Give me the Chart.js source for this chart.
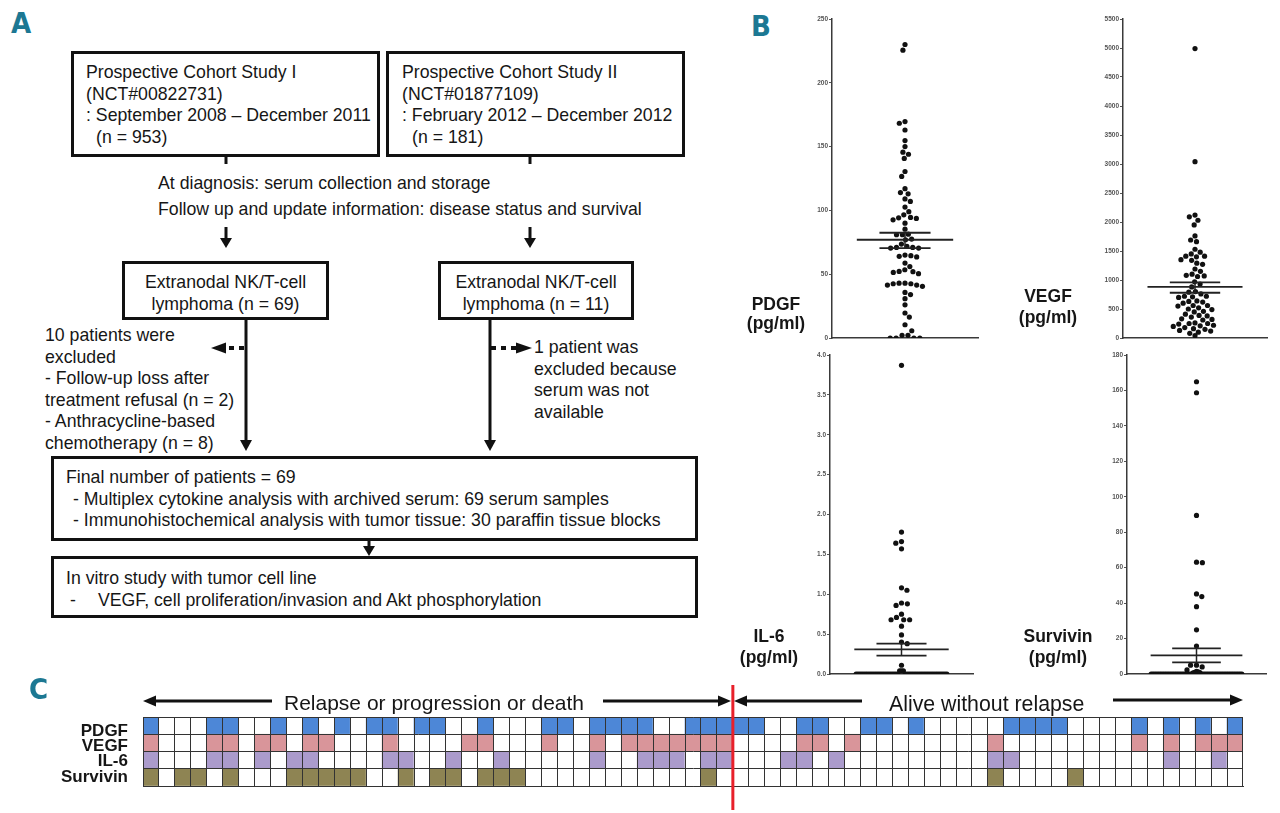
<!DOCTYPE html>
<html>
<head>
<meta charset="utf-8">
<script src="https://cdn.jsdelivr.net/npm/chart.js@4.4.1/dist/chart.umd.min.js"></script>
<style>
  body { margin: 0; background: #fff; }
  #page { position: relative; width: 1280px; height: 813px; overflow: hidden; font-family: "Liberation Sans", Arial, sans-serif; color: #161616; }
  .box { position: absolute; box-sizing: border-box; border: 3px solid #111; font-size: 17.7px; line-height: 21.5px; white-space: nowrap; }
  .txt { position: absolute; font-size: 17.7px; line-height: 21.5px; white-space: nowrap; }
  .panel { position: absolute; font-family: "Liberation Sans Narrow", "DejaVu Sans Condensed", sans-serif; font-weight: bold; color: #1c7893; font-size: 29px; line-height: 29px; }
  .ylab { position: absolute; font-weight: bold; font-size: 17.5px; text-align: center; width: 100px; white-space: nowrap; }
  .rowlab { position: absolute; font-weight: bold; font-size: 17px; line-height: 16px; text-align: right; width: 110px; left: 18px; }
  canvas { position: absolute; }
  svg { position: absolute; left: 0; top: 0; }
</style>
</head>
<body>
<div id="page">
  <canvas id="heat" width="1280" height="133" style="left:0;top:680px"></canvas>
  <canvas id="c0" width="182" height="332" style="left:800px;top:12px"></canvas>
  <canvas id="c1" width="180" height="332" style="left:1091px;top:12px"></canvas>
  <canvas id="c2" width="179" height="332" style="left:798px;top:348px"></canvas>
  <canvas id="c3" width="175" height="332" style="left:1095px;top:348px"></canvas>

  <div class="panel" style="left:11px;top:9px">A</div>
  <div class="panel" style="left:751px;top:12px">B</div>
  <div class="panel" style="left:29px;top:675px">C</div>

  <!-- flowchart -->
  <div class="box" style="left:71px;top:51px;width:309px;height:106px;padding:8px 0 0 12px">
    Prospective Cohort Study I<br>(NCT#00822731)<br>: September 2008 &ndash; December 2011<br><span style="padding-left:10px">(n = 953)</span>
  </div>
  <div class="box" style="left:386px;top:51px;width:299px;height:106px;padding:8px 0 0 13px">
    Prospective Cohort Study II<br>(NCT#01877109)<br>: February 2012 &ndash; December 2012<br><span style="padding-left:10px">(n = 181)</span>
  </div>
  <div class="txt" style="left:158px;top:173px">At diagnosis: serum collection and storage</div>
  <div class="txt" style="left:158px;top:199px">Follow up and update information: disease status and survival</div>

  <div class="box" style="left:122px;top:261px;width:207px;height:59px;text-align:center;padding-top:8px">Extranodal NK/T-cell<br>lymphoma (n = 69)</div>
  <div class="box" style="left:438px;top:261px;width:196px;height:59px;text-align:center;padding-top:8px">Extranodal NK/T-cell<br>lymphoma (n = 11)</div>

  <div class="txt" style="left:45px;top:325px">10 patients were<br>excluded<br>- Follow-up loss after<br>treatment refusal (n = 2)<br>- Anthracycline-based<br>chemotherapy (n = 8)</div>
  <div class="txt" style="left:534px;top:337px">1 patient was<br>excluded because<br>serum was not<br>available</div>

  <div class="box" style="left:51px;top:456px;width:647px;height:85px;padding:8px 0 0 12px">
    Final number of patients = 69<br><span style="padding-left:7px">- Multiplex cytokine analysis with archived serum: 69 serum samples</span><br><span style="padding-left:7px">- Immunohistochemical analysis with tumor tissue: 30 paraffin tissue blocks</span>
  </div>
  <div class="box" style="left:51px;top:556px;width:647px;height:62px;padding:9px 0 0 12px">
    In vitro study with tumor cell line<br><span style="display:inline-block;width:28px;padding-left:4px">-</span>VEGF, cell proliferation/invasion and Akt phosphorylation
  </div>

  <!-- dot plot labels -->
  <div class="ylab" style="left:726px;top:295px;line-height:19px">PDGF<br>(pg/ml)</div>
  <div class="ylab" style="left:998px;top:286px;line-height:21px">VEGF<br>(pg/ml)</div>
  <div class="ylab" style="left:719px;top:626px;line-height:21px">IL-6<br>(pg/ml)</div>
  <div class="ylab" style="left:1008px;top:626px;line-height:21px">Survivin<br>(pg/ml)</div>

  <!-- panel C labels -->
  <div class="txt" style="left:284px;top:690px;font-size:21px;line-height:26px">Relapse or progression or death</div>
  <div class="txt" style="left:889px;top:691px;font-size:21.3px;line-height:26px">Alive without relapse</div>
  <div class="rowlab" style="top:723px">PDGF</div>
  <div class="rowlab" style="top:738px">VEGF</div>
  <div class="rowlab" style="top:753px">IL-6</div>
  <div class="rowlab" style="top:769px">Survivin</div>

  <svg width="1280" height="813">
    <g stroke="#111" stroke-width="3" fill="#111">
      <line x1="226" y1="156" x2="226" y2="164"/>
      <line x1="530" y1="156" x2="530" y2="164"/>
      <line x1="226" y1="227" x2="226" y2="240"/>
      <polygon points="220,238 232,238 226,248" stroke-width="0"/>
      <line x1="530" y1="227" x2="530" y2="240"/>
      <polygon points="524,238 536,238 530,248" stroke-width="0"/>
      <line x1="246" y1="320" x2="246" y2="442"/>
      <polygon points="240,440 252,440 246,451" stroke-width="0"/>
      <line x1="490" y1="320" x2="490" y2="442"/>
      <polygon points="484,440 496,440 490,451" stroke-width="0"/>
      <line x1="244" y1="348" x2="225" y2="348" stroke-width="4" stroke-dasharray="5,5"/>
      <polygon points="211,348 226,342.5 226,353.5" stroke-width="0"/>
      <line x1="491" y1="348" x2="516" y2="348" stroke-width="4" stroke-dasharray="5,5"/>
      <polygon points="532,348 516,342.5 516,353.5" stroke-width="0"/>
      <line x1="369" y1="541" x2="369" y2="548"/>
      <polygon points="363,546 375,546 369,556" stroke-width="0"/>

      <line x1="153" y1="701" x2="272" y2="701"/>
      <polygon points="143,701 156,695.5 156,706.5" stroke-width="0"/>
      <line x1="603" y1="701" x2="720" y2="701"/>
      <polygon points="731,701 718,695.5 718,706.5" stroke-width="0"/>
      <line x1="745" y1="701" x2="862" y2="701"/>
      <polygon points="734,701 747,695.5 747,706.5" stroke-width="0"/>
      <line x1="1113" y1="700" x2="1232" y2="700"/>
      <polygon points="1243,700 1230,694.5 1230,705.5" stroke-width="0"/>
    </g>
  </svg>
</div>

<script>
// serum levels per patient (pg/ml)
var pdgfValues = [230, 225.6, 169.6, 168.3, 163, 154.7, 150, 145.6, 144, 140.7,
  130.5, 126.6, 117, 114, 113, 109, 107, 102.6, 99, 96.5,
  94.5, 94.2, 93.7, 92.6, 90, 85.3, 81.4, 81, 80.9, 77.5,
  77, 73.6, 71.8, 71, 71, 70.5, 70.5, 65, 64.5, 64,
  63.5, 58.7, 56, 53.5, 52.2, 52, 51.4, 50.4, 43, 43,
  42.5, 42.5, 41.5, 41.5, 40.5, 35.7, 34, 30.8, 26, 19.6,
  16.4, 10.4, 5.7, 2.1, 2.1, 0, 0, 0, 0];
var vegfValues = [4990, 3040, 2120, 2090, 2030, 1950, 1760, 1690, 1660, 1530,
  1480, 1450, 1410, 1410, 1400, 1350, 1340, 1290, 1270, 1190,
  1150, 1100, 1080, 1070, 1060, 970, 930, 880, 800, 790,
  760, 720, 720, 710, 700, 640, 630, 620, 600, 560,
  560, 550, 520, 500, 490, 460, 450, 410, 390, 380,
  360, 330, 320, 310, 260, 250, 250, 240, 220, 210,
  200, 180, 160, 150, 130, 120, 100, 80, 40];
var il6Values = [3.87, 1.78, 1.66, 1.64, 1.57, 1.08, 1.05, 0.89, 0.88, 0.86,
  0.75, 0.71, 0.68, 0.68, 0.68, 0.6, 0.49, 0.4, 0.38, 0.11,
  0.04, 0.04, 0.04, 0, 0, 0, 0, 0, 0, 0,
  0, 0, 0, 0, 0, 0, 0, 0, 0, 0,
  0, 0, 0, 0, 0, 0, 0, 0, 0, 0,
  0, 0, 0, 0, 0, 0, 0, 0, 0, 0,
  0, 0, 0, 0, 0, 0, 0, 0, 0];
var survivinValues = [164.9, 158.7, 89.5, 63.1, 62.8, 45.2, 43.7, 38, 24.9, 15.8,
  5, 5, 4, 2.3, 1.5, 1.2, 1, 0.8, 0.6, 0,
  0, 0, 0, 0, 0, 0, 0, 0, 0, 0,
  0, 0, 0, 0, 0, 0, 0, 0, 0, 0,
  0, 0, 0, 0, 0, 0, 0, 0, 0, 0,
  0, 0, 0, 0, 0, 0, 0, 0, 0, 0,
  0, 0, 0, 0, 0, 0, 0, 0, 0];

// mean and SEM for PDGF, VEGF, IL-6, Survivin
var meanValues = [77, 880, 0.31, 10.5];
var semLow = [70.5, 780, 0.23, 6.6];
var semHigh = [82.5, 960, 0.38, 14.5];
var axisMax = [250, 5500, 4, 180];
var axisStep = [50, 500, 0.5, 20];

// panel C: 1 = high level, patients ordered by outcome
var pdgfHigh = [1,0,0,0,1,1,0,0,1,0, 1,0,1,0,1,1,0,1,1,0, 0,1,0,0,0,1,1,0,1,1,
  1,1,0,0,1,1,1,1,1,0, 0,1,1,0,0,1,1,0,1,0, 0,0,0,0,1,1,1,1,0,0, 0,0,1,0,1,0,1,0,1];
var vegfHigh = [1,0,0,0,1,1,0,1,1,0, 1,1,0,0,0,1,0,0,0,0, 1,1,0,0,0,1,0,0,1,0,
  1,1,1,1,1,1,1,0,0,0, 0,1,1,0,1,0,0,0,0,0, 0,0,0,1,0,0,0,0,0,0, 0,0,1,0,1,0,1,1,1];
var il6High = [1,0,0,0,1,1,0,1,0,1, 1,0,0,0,0,1,1,0,0,1, 0,0,1,0,0,0,0,0,1,0,
  0,1,1,1,0,1,1,0,0,0, 1,1,0,1,0,0,0,0,0,0, 0,0,0,1,1,0,0,0,0,0, 0,0,0,0,1,0,0,1,0];
var survivinHigh = [1,0,1,1,0,1,0,0,0,1, 1,1,1,1,0,0,1,0,1,1, 0,1,1,1,0,0,0,0,0,0,
  0,0,0,0,0,1,0,0,0,0, 0,0,0,0,0,0,0,0,0,0, 0,0,0,1,0,0,0,0,1,0, 0,0,0,0,0,0,0,0,0];
var relapseCount = 37;

Chart.defaults.font.family = '"Liberation Sans", Arial, sans-serif';

// column scatter layout: dots pushed sideways until they stop overlapping,
// the pile at the bottom of the axis is squeezed into one row
function swarm(values, yMax, plotW, plotH) {
  var pxY = plotH / yMax, half = plotW / 2, d = 6, maxHalf = 46;
  var sorted = values.slice().sort(function (a, b) { return b - a; });
  var bottom = sorted.filter(function (v) { return v * pxY < 3.5; });
  var rest = sorted.filter(function (v) { return v * pxY >= 3.5; });
  var out = [];
  var placed = [];
  var n = bottom.length;
  if (n) {
    var step = n > 1 ? Math.min(d, 2 * maxHalf / (n - 1)) : 0;
    var slots = [];
    for (var j = 0; j < n; j++) slots.push((j - (n - 1) / 2) * step);
    slots.sort(function (a, b) { return Math.abs(a) - Math.abs(b) || b - a; });
    bottom.forEach(function (v, i) { out.push({ px: slots[i], v: v }); });
    // a short row takes part in collisions, a squeezed one does not
    if (step >= d) out.forEach(function (p) { placed.push({ px: p.px, py: p.v * pxY }); });
  }
  var flip = 1;
  rest.forEach(function (v) {
    var py = v * pxY;
    var near = placed.filter(function (p) { return Math.abs(p.py - py) < d; });
    var cands = [0];
    near.forEach(function (p) {
      var dx = Math.sqrt(d * d - (p.py - py) * (p.py - py));
      cands.push(p.px + dx, p.px - dx);
    });
    var ok = cands.filter(function (c) {
      return near.every(function (p) {
        return Math.hypot(p.px - c, p.py - py) >= d - 0.01;
      });
    });
    ok.sort(function (a, b) { return Math.abs(a) - Math.abs(b) || (b - a) * flip; });
    flip = -flip;
    placed.push({ px: ok[0], py: py });
    out.push({ px: ok[0], v: v });
  });
  return out.map(function (p) { return { x: p.px / half, y: p.v }; });
}

function seg(xs, ys, w) {
  return { data: [{ x: xs[0], y: ys[0] }, { x: xs[1], y: ys[1] }], showLine: true, pointRadius: 0,
    borderColor: '#222', borderWidth: w, order: 1 };
}

var series = [pdgfValues, vegfValues, il6Values, survivinValues];
var plotSize = [[148, 319], [146, 319], [145, 318], [141, 318]];

series.forEach(function (vals, k) {
  new Chart(document.getElementById('c' + k), {
    type: 'scatter',
    data: {
      datasets: [
        { data: swarm(vals, axisMax[k], plotSize[k][0], plotSize[k][1]), pointRadius: 2.6,
          pointBackgroundColor: '#111', pointBorderWidth: 0, order: 2 },
        seg([-0.66, 0.66], [meanValues[k], meanValues[k]], 1.8),
        seg([-0.35, 0.35], [semLow[k], semLow[k]], 1.8),
        seg([-0.35, 0.35], [semHigh[k], semHigh[k]], 1.8),
        seg([0, 0], [semLow[k], semHigh[k]], 1.5)
      ]
    },
    options: {
      animation: false, responsive: false, events: [],
      layout: { padding: { top: 7, bottom: 6, right: 2 } },
      plugins: { legend: { display: false }, tooltip: { enabled: false } },
      scales: {
        x: { min: -1, max: 1, ticks: { display: false }, grid: { display: false },
          border: { color: '#3a3a3a', width: 1.5 },
          afterFit: function (s) { s.height = 0; } },
        y: { min: 0, max: axisMax[k],
          ticks: { stepSize: axisStep[k], color: '#555', padding: 1,
            font: { size: 6.5, weight: 'bold' },
            callback: function (v) { return k === 2 ? v.toFixed(1) : String(v); } },
          grid: { drawOnChartArea: false, tickLength: 3, color: '#555' },
          border: { color: '#3a3a3a', width: 1.5 },
          afterFit: function (s) { s.width = 32; } }
      }
    }
  });
});

// panel C grid, rows from bottom to top
var rows = [survivinHigh, il6High, vegfHigh, pdgfHigh];
var rowColors = ['#8e8453', '#ab9bcc', '#d9959a', '#4d87d7'];
var patientIds = pdgfHigh.map(function (v, i) { return i + 1; });

var splitLine = {
  id: 'splitLine',
  afterDraw: function (chart) {
    var xs = chart.scales.x;
    var px = (xs.getPixelForValue(relapseCount - 1) + xs.getPixelForValue(relapseCount)) / 2;
    var ctx = chart.ctx;
    ctx.save();
    ctx.strokeStyle = '#e8202a';
    ctx.lineWidth = 3;
    ctx.beginPath();
    ctx.moveTo(px, 5);
    ctx.lineTo(px, 130);
    ctx.stroke();
    ctx.restore();
  }
};

new Chart(document.getElementById('heat'), {
  type: 'bar',
  data: {
    labels: patientIds,
    datasets: rows.map(function (r, i) {
      return { data: r.map(function () { return 1; }),
        backgroundColor: r.map(function (v) { return v ? rowColors[i] : '#fff'; }),
        borderWidth: 0, barPercentage: 1, categoryPercentage: 1 };
    })
  },
  options: {
    animation: false, responsive: false, events: [],
    layout: { padding: { left: 143, right: 37, top: 37, bottom: 27 } },
    plugins: { legend: { display: false }, tooltip: { enabled: false } },
    scales: {
      x: { stacked: true, ticks: { display: false },
        grid: { offset: true, color: '#333', lineWidth: 1, drawTicks: false, z: 1 },
        border: { color: '#333', z: 1 },
        afterFit: function (s) { s.height = 0; } },
      y: { stacked: true, min: 0, max: 4, ticks: { display: false, stepSize: 1 },
        grid: { color: '#333', lineWidth: 1, drawTicks: false, z: 1 },
        border: { color: '#333', z: 1 },
        afterFit: function (s) { s.width = 0; } }
    }
  },
  plugins: [splitLine]
});
</script>
</body>
</html>
